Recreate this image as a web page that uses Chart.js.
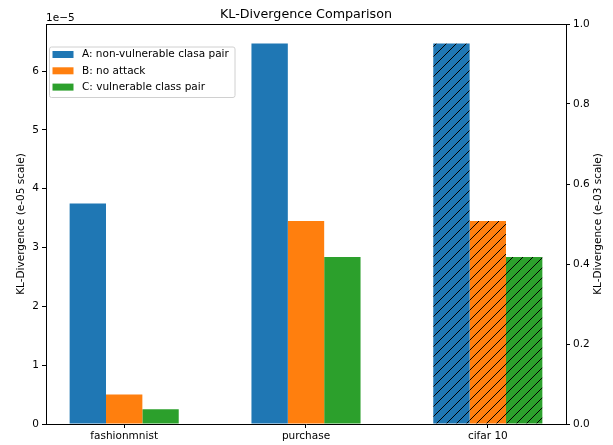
<!DOCTYPE html>
<html>
<head>
<meta charset="utf-8">
<title>KL-Divergence Comparison</title>
<script src="https://cdn.jsdelivr.net/npm/chart.js@4.4.1/dist/chart.umd.min.js"></script>
<style>
  html, body { margin: 0; padding: 0; background: #fff; }
  canvas { display: block; }
</style>
</head>
<body>
<canvas id="chart" width="613" height="445"></canvas>
<script>
// data (left axis units are 1e-5)
const categories = ["fashionmnist", "purchase", "cifar 10"];
const seriesNames = ["A: non-vulnerable clasa pair", "B: no attack", "C: vulnerable class pair"];
const seriesA = [3.75, 6.47, 6.47];
const seriesB = [0.50, 3.45, 3.45];
const seriesC = [0.25, 2.84, 2.84];
const hatched = ["cifar 10"];
const leftTicks = [0, 1, 2, 3, 4, 5, 6];
const rightTicks = [0, 0.2, 0.4, 0.6, 0.8, 1.0];
const colors = ["#1f77b4", "#ff7f0e", "#2ca02c"];

const FONT = "DejaVu Sans";
const FS = 10.5;

// diagonal "//" fill
function hatch(color) {
  let size = 10;
  let c = document.createElement("canvas");
  c.width = size; c.height = size;
  let g = c.getContext("2d");
  g.fillStyle = color;
  g.fillRect(0, 0, size, size);
  g.strokeStyle = "#000";
  g.lineWidth = 1;
  g.beginPath();
  g.moveTo(0, size); g.lineTo(size, 0);
  g.moveTo(-size / 2, size / 2); g.lineTo(size / 2, -size / 2);
  g.moveTo(size / 2, size * 1.5); g.lineTo(size * 1.5, size / 2);
  g.stroke();
  return g.createPattern(c, "repeat");
}

function makeSet(label, values, color) {
  let pat = hatch(color);
  return {
    label,
    data: values.map((v, i) => ({ x: i, y: v })),
    backgroundColor: categories.map(c => hatched.includes(c) ? pat : color),
    borderWidth: 0,
    yAxisID: "y",
    categoryPercentage: 0.6,
    barPercentage: 1.0
  };
}

// title, offset text, right axis label, top spine and legend box
const extras = {
  id: "extras",
  afterDraw(chart) {
    let ctx = chart.ctx;
    let ca = chart.chartArea;
    ctx.save();

    ctx.strokeStyle = "#000";
    ctx.lineWidth = 1;
    ctx.beginPath();
    ctx.moveTo(ca.left, ca.top + 0.5);
    ctx.lineTo(ca.right, ca.top + 0.5);
    ctx.stroke();

    ctx.fillStyle = "#000";
    ctx.font = "12.7px '" + FONT + "'";
    ctx.textAlign = "center";
    ctx.textBaseline = "alphabetic";
    ctx.fillText("KL-Divergence Comparison", (ca.left + ca.right) / 2, 17.5);

    ctx.font = FS + "px '" + FONT + "'";
    ctx.textAlign = "left";
    ctx.fillText("1e\u22125", ca.left, 20.5);

    // right axis label, reads bottom to top
    ctx.save();
    ctx.translate(598, (ca.top + ca.bottom) / 2);
    ctx.rotate(-Math.PI / 2);
    ctx.textAlign = "center";
    ctx.textBaseline = "middle";
    ctx.fillText("KL-Divergence (e-03 scale)", 0, 0);
    ctx.restore();

    // legend
    let lx = ca.left + 3, ly = ca.top + 22.5, lw = 185.5, lh = 50.5;
    ctx.beginPath();
    ctx.roundRect(lx + 0.5, ly + 0.5, lw, lh, 2);
    ctx.fillStyle = "rgba(255,255,255,0.8)";
    ctx.fill();
    ctx.strokeStyle = "#d0d0d0";
    ctx.stroke();

    ctx.textBaseline = "middle";
    seriesNames.forEach((name, i) => {
      let cy = ly + 8 + i * 16.3;
      ctx.fillStyle = colors[i];
      ctx.fillRect(lx + 3.5, cy - 3.5, 21, 7);
      ctx.fillStyle = "#000";
      ctx.fillText(name, lx + 33, cy);
    });
    ctx.restore();
  }
};

new Chart(document.getElementById("chart"), {
  type: "bar",
  data: {
    datasets: [
      makeSet(seriesNames[0], seriesA, colors[0]),
      makeSet(seriesNames[1], seriesB, colors[1]),
      makeSet(seriesNames[2], seriesC, colors[2])
    ]
  },
  options: {
    responsive: false,
    animation: false,
    layout: { padding: { top: 24, left: 0, right: 0, bottom: 0 } },
    plugins: {
      legend: { display: false },
      tooltip: { enabled: false }
    },
    scales: {
      x: {
        type: "linear",
        min: -0.43,
        max: 2.43,
        offset: false,
        grid: { offset: false, drawOnChartArea: false, tickLength: 4, color: "#000" },
        border: { color: "#000" },
        afterBuildTicks: s => { s.ticks = categories.map((_, i) => ({ value: i })); },
        afterFit: s => { s.height = 21; },
        ticks: {
          autoSkip: false,
          maxRotation: 0,
          padding: 2,
          color: "#000",
          font: { family: FONT, size: FS },
          callback: v => categories[v]
        }
      },
      y: {
        position: "left",
        min: 0,
        max: 6.8,
        grid: { drawOnChartArea: false, tickLength: 4, color: "#000" },
        border: { color: "#000" },
        afterBuildTicks: s => { s.ticks = leftTicks.map(v => ({ value: v })); },
        afterFit: s => { s.width = 46; },
        ticks: {
          padding: 3,
          color: "#000",
          font: { family: FONT, size: FS },
          callback: v => String(v)
        },
        title: {
          display: true,
          text: "KL-Divergence (e-05 scale)",
          color: "#000",
          padding: { top: 15, bottom: 0 },
          font: { family: FONT, size: FS }
        }
      },
      y1: {
        position: "right",
        min: 0,
        max: 1.0,
        grid: { drawOnChartArea: false, tickLength: 4, color: "#000" },
        border: { color: "#000" },
        afterBuildTicks: s => { s.ticks = rightTicks.map(v => ({ value: v })); },
        afterFit: s => { s.width = 47; },
        ticks: {
          padding: 3,
          color: "#000",
          font: { family: FONT, size: FS },
          callback: v => v.toFixed(1)
        }
      }
    }
  },
  plugins: [extras]
});
</script>
</body>
</html>
